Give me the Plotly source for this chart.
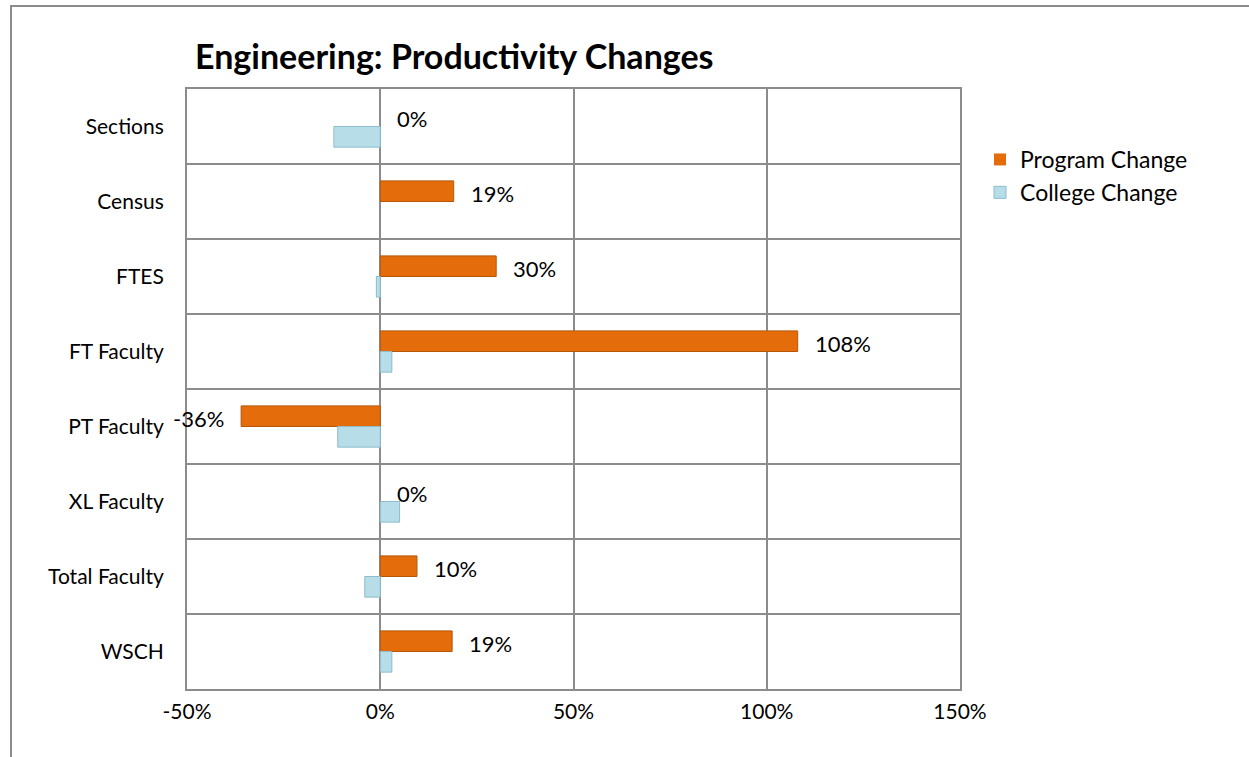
import plotly.graph_objects as go

categories = ["Sections", "Census", "FTES", "FT Faculty", "PT Faculty",
              "XL Faculty", "Total Faculty", "WSCH"]
program_change = [0, 19, 30, 108, -36, 0, 9.5, 18.6]
college_change = [-12, 0, -1, 3, -11, 5, -4, 3]
program_labels = ["0%", "19%", "30%", "108%", "-36%", "0%", "10%", "19%"]
x_tickvals = [-50, 0, 50, 100, 150]
x_ticktext = ["-50%", "0%", "50%", "100%", "150%"]

FONT = "Lato"
GRID = "#8c8c8c"

fig = go.Figure()
fig.add_trace(go.Bar(
    name="Program Change", y=categories, x=program_change, orientation="h",
    marker=dict(color="#E46C0A",
                line=dict(color="#B65708",
                          width=[0 if v == 0 else 1 for v in program_change])),
))
fig.add_trace(go.Bar(
    name="College Change", y=categories, x=college_change, orientation="h",
    marker=dict(color="#B7DEE8",
                line=dict(color="#8DBCCB",
                          width=[0 if v == 0 else 1 for v in college_change])),
))

annotations = []
for cat, val, lab in zip(categories, program_change, program_labels):
    annotations.append(dict(
        x=val, y=cat, xref="x", yref="y", text=lab, showarrow=False,
        xanchor="left" if val >= 0 else "right",
        xshift=15 if val >= 0 else -15, yshift=8,
        font=dict(family=FONT, size=22, color="black"),
    ))

L, R, T, B = 187, 960, 89, 689
W, H = 1249, 757
pw, ph = R - L, B - T

fig.update_layout(
    width=W, height=H,
    margin=dict(l=L, r=W - R, t=T, b=H - B, autoexpand=False),
    paper_bgcolor="white", plot_bgcolor="white",
    barmode="group", bargap=0.45, bargroupgap=0,
    font=dict(family=FONT, size=21, color="black"),
    title=dict(text="<b>Engineering: Productivity Changes</b>",
               font=dict(family=FONT, size=34, color="black"),
               x=(195 - L) / pw, xref="paper", xanchor="left",
               y=1 - 57 / H, yref="container", yanchor="middle"),
    legend=dict(x=(980 - L) / pw, y=(B - 138) / ph, xanchor="left", yanchor="top",
                font=dict(family=FONT, size=23, color="black"),
                bgcolor="rgba(0,0,0,0)", itemwidth=30, tracegroupgap=0),
    xaxis=dict(range=[-50, 150], tickvals=x_tickvals, ticktext=x_ticktext,
               showgrid=True, gridcolor=GRID, gridwidth=2, zeroline=False,
               showline=True, linecolor=GRID, linewidth=2, mirror=True,
               ticks="", ticklabelstandoff=3,
               tickfont=dict(family=FONT, size=21, color="black"), fixedrange=True),
    yaxis=dict(type="category", autorange="reversed", tickson="boundaries",
               showgrid=True, gridcolor=GRID, gridwidth=2,
               showline=True, linecolor=GRID, linewidth=2, mirror=True,
               ticks="", ticklabelstandoff=17,
               tickfont=dict(family=FONT, size=21, color="black"), fixedrange=True),
    annotations=annotations,
    shapes=[dict(type="rect", xref="paper", yref="paper",
                 x0=(11 - L) / pw, x1=1.6, y0=-0.3, y1=(B - 6) / ph,
                 line=dict(color=GRID, width=2), fillcolor="rgba(0,0,0,0)",
                 layer="below")],
    showlegend=True,
)

fig.write_html("out.html")
